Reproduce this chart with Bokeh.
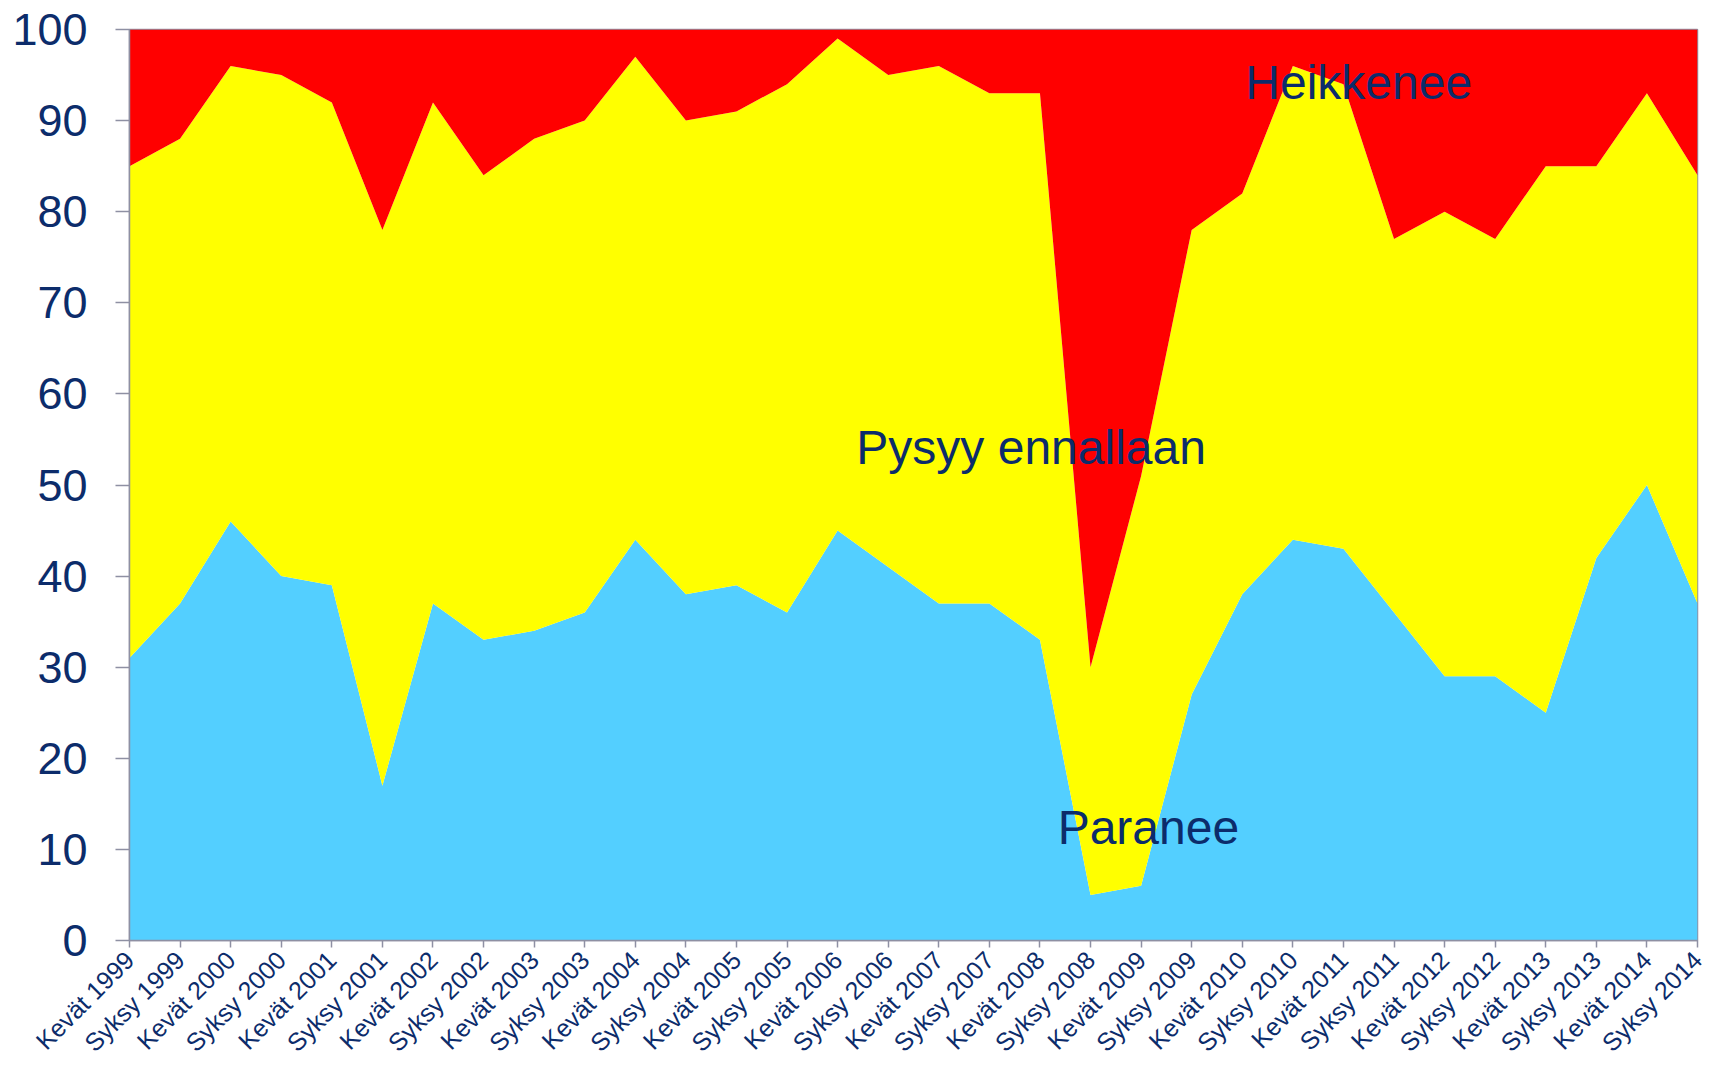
import math
from bokeh.plotting import figure
from bokeh.models import ColumnDataSource, Range1d, FixedTicker, Label
from bokeh.embed import file_html
from bokeh.resources import INLINE

periods = [
    "Kevät 1999", "Syksy 1999", "Kevät 2000", "Syksy 2000", "Kevät 2001", "Syksy 2001",
    "Kevät 2002", "Syksy 2002", "Kevät 2003", "Syksy 2003", "Kevät 2004", "Syksy 2004",
    "Kevät 2005", "Syksy 2005", "Kevät 2006", "Syksy 2006", "Kevät 2007", "Syksy 2007",
    "Kevät 2008", "Syksy 2008", "Kevät 2009", "Syksy 2009", "Kevät 2010", "Syksy 2010",
    "Kevät 2011", "Syksy 2011", "Kevät 2012", "Syksy 2012", "Kevät 2013", "Syksy 2013",
    "Kevät 2014", "Syksy 2014",
]
paranee = [31, 37, 46, 40, 39, 17, 37, 33, 34, 36, 44, 38, 39, 36, 45, 41,
           37, 37, 33, 5, 6, 27, 38, 44, 43, 36, 29, 29, 25, 42, 50, 37]
pysyy = [54, 51, 50, 55, 53, 61, 55, 51, 54, 54, 53, 52, 52, 58, 54, 54,
         59, 56, 60, 25, 45, 51, 44, 52, 51, 41, 51, 48, 60, 43, 43, 47]
heikkenee = [15, 12, 4, 5, 8, 22, 8, 16, 12, 10, 3, 10, 9, 6, 1, 5,
             4, 7, 7, 70, 49, 22, 18, 4, 6, 23, 20, 23, 15, 15, 7, 16]
series_names = ["Paranee", "Pysyy ennallaan", "Heikkenee"]
y_ticks = [0, 10, 20, 30, 40, 50, 60, 70, 80, 90, 100]

NAVY = "#0c2c6b"
GRAY = "#8e90a3"
FONT = "Liberation Sans"

xs = list(range(len(periods)))
src = ColumnDataSource(dict(x=xs, paranee=paranee, pysyy=pysyy, heikkenee=heikkenee))

p = figure(width=1714, height=1069, output_backend="svg", toolbar_location=None,
           x_range=Range1d(0, len(periods) - 1), y_range=Range1d(0, 100),
           min_border_left=129, min_border_right=17, min_border_top=29, min_border_bottom=128)

p.varea_stack(stackers=["paranee", "pysyy", "heikkenee"], x="x",
              color=["#53cfff", "#ffff00", "#ff0000"], source=src)

p.grid.visible = False
p.outline_line_color = GRAY
p.outline_line_width = 1.5
p.background_fill_color = "white"

p.yaxis.ticker = FixedTicker(ticks=y_ticks)
p.yaxis.axis_line_color = GRAY
p.yaxis.axis_line_width = 1.5
p.yaxis.major_tick_line_color = GRAY
p.yaxis.major_tick_line_width = 1.5
p.yaxis.major_tick_out = 14
p.yaxis.major_tick_in = 0
p.yaxis.minor_tick_line_color = None
p.yaxis.major_label_standoff = 28
p.yaxis.major_label_text_font = FONT
p.yaxis.major_label_text_font_size = "45px"
p.yaxis.major_label_text_color = NAVY

p.xaxis.ticker = FixedTicker(ticks=xs)
p.xaxis.major_label_overrides = {i: lab for i, lab in enumerate(periods)}
p.xaxis.axis_line_color = GRAY
p.xaxis.axis_line_width = 1.5
p.xaxis.major_tick_line_color = GRAY
p.xaxis.major_tick_line_width = 1.5
p.xaxis.major_tick_out = 7
p.xaxis.major_tick_in = 0
p.xaxis.minor_tick_line_color = None
p.xaxis.major_label_orientation = math.pi / 4
p.xaxis.major_label_standoff = 8
p.xaxis.major_label_text_font = FONT
p.xaxis.major_label_text_font_size = "25px"
p.xaxis.major_label_text_color = NAVY

label_pos = [(18.35, 12.4), (14.37, 54.1), (22.06, 94.2)]
for name, (lx, ly) in zip(series_names, label_pos):
    p.add_layout(Label(x=lx, y=ly, text=name, text_font=FONT, text_font_size="48px",
                       text_color=NAVY, text_baseline="alphabetic", text_align="left"))

open("out.html", "w").write(file_html(p, INLINE))
